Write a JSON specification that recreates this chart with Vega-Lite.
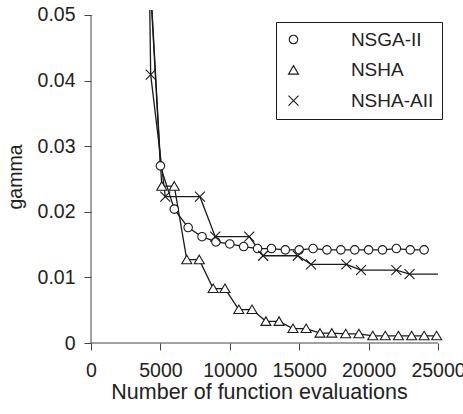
{
  "$schema": "https://vega.github.io/schema/vega-lite/v6.json",
  "width": 363,
  "height": 333,
  "autosize": {"type": "none"},
  "padding": {"left": 91, "top": 10, "right": 9, "bottom": 71},
  "background": "white",
  "config": {"view": {"stroke": null}, "font": "Liberation Sans"},
  "datasets": {
    "curves": [
      {"algorithm": "NSGA-II", "evaluations": 4000, "gamma": 0.065},
      {"algorithm": "NSGA-II", "evaluations": 5000, "gamma": 0.027},
      {"algorithm": "NSGA-II", "evaluations": 6000, "gamma": 0.0204},
      {"algorithm": "NSGA-II", "evaluations": 7000, "gamma": 0.0176},
      {"algorithm": "NSGA-II", "evaluations": 8000, "gamma": 0.0162},
      {"algorithm": "NSGA-II", "evaluations": 9000, "gamma": 0.0154},
      {"algorithm": "NSGA-II", "evaluations": 10000, "gamma": 0.0151},
      {"algorithm": "NSGA-II", "evaluations": 11000, "gamma": 0.0147},
      {"algorithm": "NSGA-II", "evaluations": 12000, "gamma": 0.0144},
      {"algorithm": "NSGA-II", "evaluations": 13000, "gamma": 0.0144},
      {"algorithm": "NSGA-II", "evaluations": 14000, "gamma": 0.0142},
      {"algorithm": "NSGA-II", "evaluations": 15000, "gamma": 0.0142},
      {"algorithm": "NSGA-II", "evaluations": 16000, "gamma": 0.0144},
      {"algorithm": "NSGA-II", "evaluations": 17000, "gamma": 0.0142},
      {"algorithm": "NSGA-II", "evaluations": 18000, "gamma": 0.0142},
      {"algorithm": "NSGA-II", "evaluations": 19000, "gamma": 0.0142},
      {"algorithm": "NSGA-II", "evaluations": 20000, "gamma": 0.0142},
      {"algorithm": "NSGA-II", "evaluations": 21000, "gamma": 0.0142},
      {"algorithm": "NSGA-II", "evaluations": 22000, "gamma": 0.0144},
      {"algorithm": "NSGA-II", "evaluations": 23000, "gamma": 0.0142},
      {"algorithm": "NSGA-II", "evaluations": 24000, "gamma": 0.0142},
      {"algorithm": "NSHA", "evaluations": 4150, "gamma": 0.06},
      {"algorithm": "NSHA", "evaluations": 5100, "gamma": 0.0239},
      {"algorithm": "NSHA", "evaluations": 6000, "gamma": 0.0239},
      {"algorithm": "NSHA", "evaluations": 6900, "gamma": 0.0127},
      {"algorithm": "NSHA", "evaluations": 7800, "gamma": 0.0127},
      {"algorithm": "NSHA", "evaluations": 8800, "gamma": 0.0083},
      {"algorithm": "NSHA", "evaluations": 9650, "gamma": 0.0083},
      {"algorithm": "NSHA", "evaluations": 10650, "gamma": 0.0051},
      {"algorithm": "NSHA", "evaluations": 11600, "gamma": 0.0051},
      {"algorithm": "NSHA", "evaluations": 12600, "gamma": 0.0033},
      {"algorithm": "NSHA", "evaluations": 13550, "gamma": 0.0033},
      {"algorithm": "NSHA", "evaluations": 14550, "gamma": 0.0022},
      {"algorithm": "NSHA", "evaluations": 15500, "gamma": 0.0022},
      {"algorithm": "NSHA", "evaluations": 16500, "gamma": 0.0015},
      {"algorithm": "NSHA", "evaluations": 17350, "gamma": 0.0015},
      {"algorithm": "NSHA", "evaluations": 18350, "gamma": 0.0014},
      {"algorithm": "NSHA", "evaluations": 19300, "gamma": 0.0014},
      {"algorithm": "NSHA", "evaluations": 20300, "gamma": 0.0011},
      {"algorithm": "NSHA", "evaluations": 21200, "gamma": 0.0011},
      {"algorithm": "NSHA", "evaluations": 22150, "gamma": 0.0011},
      {"algorithm": "NSHA", "evaluations": 23100, "gamma": 0.0011},
      {"algorithm": "NSHA", "evaluations": 24000, "gamma": 0.0011},
      {"algorithm": "NSHA", "evaluations": 24900, "gamma": 0.0011},
      {"algorithm": "NSHA-AII", "evaluations": 4050, "gamma": 0.079},
      {"algorithm": "NSHA-AII", "evaluations": 4300, "gamma": 0.0409},
      {"algorithm": "NSHA-AII", "evaluations": 5350, "gamma": 0.0223},
      {"algorithm": "NSHA-AII", "evaluations": 7850, "gamma": 0.0223},
      {"algorithm": "NSHA-AII", "evaluations": 8950, "gamma": 0.0162},
      {"algorithm": "NSHA-AII", "evaluations": 11400, "gamma": 0.0162},
      {"algorithm": "NSHA-AII", "evaluations": 12400, "gamma": 0.0133},
      {"algorithm": "NSHA-AII", "evaluations": 14900, "gamma": 0.0133},
      {"algorithm": "NSHA-AII", "evaluations": 15850, "gamma": 0.012},
      {"algorithm": "NSHA-AII", "evaluations": 18400, "gamma": 0.012},
      {"algorithm": "NSHA-AII", "evaluations": 19450, "gamma": 0.0111},
      {"algorithm": "NSHA-AII", "evaluations": 22000, "gamma": 0.0111},
      {"algorithm": "NSHA-AII", "evaluations": 22950, "gamma": 0.0105},
      {"algorithm": "NSHA-AII", "evaluations": 25000, "gamma": 0.0105}
    ]
  },
  "layer": [
    {
      "data": {"name": "curves"},
      "mark": {"type": "line", "clip": true, "color": "#1a1a1a", "strokeWidth": 1.3},
      "encoding": {
        "x": {
          "field": "evaluations", "type": "quantitative",
          "scale": {"domain": [0, 26152.7], "nice": false, "zero": true},
          "axis": {
            "values": [0, 5000, 10000, 15000, 20000, 25000],
            "format": "d",
            "title": "Number of function evaluations",
            "grid": false, "domain": false,
            "tickColor": "#444", "tickSize": 7,
            "labelFontSize": 19.5, "labelPadding": 11, "labelColor": "#222",
            "labelFlush": false, "labelOverlap": false,
            "titleFontSize": 21.5, "titleFontWeight": "normal", "titleColor": "#222", "titlePadding": 2,
            "titleX": 168, "titleAlign": "center"
          }
        },
        "y": {
          "field": "gamma", "type": "quantitative",
          "scale": {"domain": [0, 0.05076], "nice": false, "zero": true},
          "axis": {
            "values": [0, 0.01, 0.02, 0.03, 0.04, 0.05],
            "format": ".2~f",
            "title": "gamma",
            "grid": false, "domain": false,
            "tickColor": "#444", "tickSize": 7,
            "labelFontSize": 19.5, "labelPadding": 9, "labelColor": "#222",
            "labelFlush": false, "labelOverlap": false,
            "titleFontSize": 19.5, "titleFontWeight": "normal", "titleColor": "#222", "titlePadding": 12
          }
        },
        "detail": {"field": "algorithm", "type": "nominal"}
      }
    },
    {
      "data": {"name": "curves"},
      "transform": [{"filter": "datum.evaluations < 25000"}],
      "mark": {"type": "point", "clip": true, "filled": true, "fill": "white", "stroke": "#1a1a1a", "strokeWidth": 1.1, "size": 100, "opacity": 1},
      "encoding": {
        "x": {"field": "evaluations", "type": "quantitative"},
        "y": {"field": "gamma", "type": "quantitative"},
        "shape": {
          "field": "algorithm", "type": "nominal",
          "scale": {
            "domain": ["NSGA-II", "NSHA", "NSHA-AII"],
            "range": [
              "M-0.85,0A0.85,0.85 0 1,1 0.85,0A0.85,0.85 0 1,1 -0.85,0Z",
              "M0,-0.9L1,0.8L-1,0.8Z",
              "M-1,-1L1,1M-1,1L1,-1"
            ]
          },
          "legend": {
            "orient": "top-right", "offset": 12.3,
            "title": null, "direction": "vertical",
            "padding": 8, "rowPadding": 10.6,
            "strokeColor": "#1a1a1a", "fillColor": "white", "cornerRadius": 0,
            "labelFontSize": 19, "labelColor": "#222", "labelOffset": 47.9,
            "symbolSize": 100, "symbolStrokeWidth": 1.1
          }
        }
      }
    },
    {
      "data": {"values": [{}]},
      "mark": {"type": "rule", "color": "#444", "strokeWidth": 1},
      "encoding": {
        "x": {"datum": 0, "type": "quantitative"},
        "y": {"datum": 0, "type": "quantitative"},
        "y2": {"datum": 0.05}
      }
    },
    {
      "data": {"values": [{}]},
      "mark": {"type": "rule", "color": "#444", "strokeWidth": 1},
      "encoding": {
        "x": {"datum": 0, "type": "quantitative"},
        "x2": {"datum": 25000},
        "y": {"datum": 0, "type": "quantitative"}
      }
    }
  ]
}
